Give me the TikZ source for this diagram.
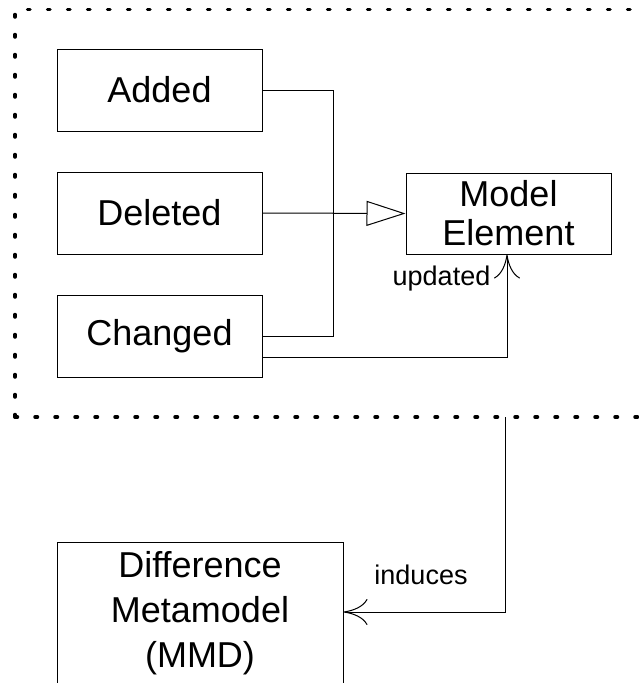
\documentclass[tikz,border=0pt]{standalone}
\usepackage{fontspec}
\setmainfont{Liberation Sans}
\usetikzlibrary{arrows.meta}
\begin{document}
\begin{tikzpicture}[x=1pt,y=-1pt,
  box/.style={draw,line width=1pt,minimum width=205pt,minimum height=82pt,inner sep=0pt,
    align=center,font=\fontsize{36}{39}\selectfont},
  conn/.style={line width=1pt},
  lbl/.style={inner sep=0pt,font=\fontsize{27}{30}\selectfont},
  gen/.style={-{Triangle[open,length=39pt,width=25pt,line width=1pt]}},
  dep/.style={-{Computer Modern Rightarrow[length=24pt,width=26pt,line width=1pt]}},
  frame/.style={line width=3.5pt,line cap=round,dash pattern=on 2.5pt off 17.5pt}]
\useasboundingbox (0,0) rectangle (638,683);
% package frame
\draw[frame] (15,417) -- (15,9.5) -- (680,9.5);
\draw[frame] (15,417) -- (680,417);
% nodes
\node[box] (added) at (159.5,90) {Added};
\node[box] (deleted) at (159.5,213) {Deleted};
\node[box] (changed) at (159.5,336) {Changed};
\node[box,minimum height=81pt] (model) at (508.5,213.5) {Model\\Element};
\node[box,minimum width=286pt,minimum height=142pt,font=\fontsize{36}{45}\selectfont] (mmd) at (200,613) {Difference\\Metamodel\\(MMD)};
% connectors
\coordinate (j) at (333,213);
\draw[conn] (added.east) -| (j);
\draw[conn] (changed.east) -| (j);
\draw[conn,gen] (deleted.east) -- (model.west);
\coordinate (cu) at (262,357);
\draw[conn,dep] (cu) -| (model.south -| 507,0);
\coordinate (fb) at (505,417);
\draw[conn,dep] (fb) |- (mmd.east |- 0,612);
% labels
\node[lbl,anchor=base] (upd) at (441.5,285) {updated};
\node[lbl,anchor=base] (ind) at (421,584) {induces};
\end{tikzpicture}
\end{document}
